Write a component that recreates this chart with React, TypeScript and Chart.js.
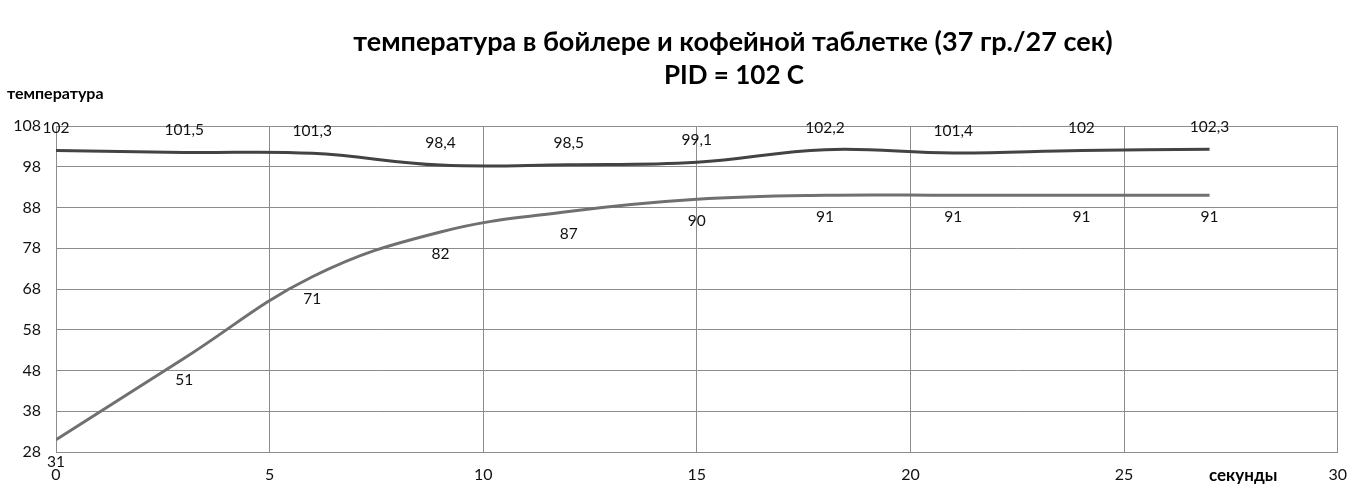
import React, { useEffect, useRef } from "react";
import { Chart, registerables } from "chart.js";

Chart.register(...registerables);

const seconds = [0, 3, 6, 9, 12, 15, 18, 21, 24, 27];
const boilerTemps = [102, 101.5, 101.3, 98.4, 98.5, 99.1, 102.2, 101.4, 102, 102.3];
const tabletTemps = [31, 51, 71, 82, 87, 90, 91, 91, 91, 91];
const titleLines = ["температура в бойлере и кофейной таблетке (37 гр./27 сек)", "PID = 102 C"];
const yAxisTitle = "температура";
const xAxisTitle = "секунды";

const FONT = "Lato, 'Noto Sans', sans-serif";

const labelsPlugin = {
  id: "valueLabels",
  afterDatasetsDraw(chart: any) {
    const ctx = chart.ctx;
    ctx.save();
    ctx.font = `15.5px ${FONT}`;
    ctx.fillStyle = "#111";
    ctx.textAlign = "center";
    ctx.textBaseline = "middle";
    chart.data.datasets.forEach((ds: any, i: number) => {
      const meta = chart.getDatasetMeta(i);
      meta.data.forEach((pt: any, j: number) => {
        const v = ds.data[j].y;
        const txt = String(v).replace(".", ",");
        const dy = i === 0 ? -22 : 22;
        ctx.fillText(txt, pt.x, pt.y + dy);
      });
    });
    ctx.restore();
  },
};

const textPlugin = {
  id: "extraText",
  afterDraw(chart: any) {
    const ctx = chart.ctx;
    ctx.save();
    ctx.fillStyle = "#000";
    ctx.textBaseline = "middle";
    ctx.textAlign = "center";
    ctx.font = `bold 27px ${FONT}`;
    ctx.fillText(titleLines[0], 733, 42);
    ctx.font = `bold 26px ${FONT}`;
    ctx.fillText(titleLines[1], 734, 76);
    ctx.textAlign = "left";
    ctx.font = `bold 16px ${FONT}`;
    ctx.fillText(yAxisTitle, 7, 94);
    ctx.font = `bold 17px ${FONT}`;
    ctx.fillText(xAxisTitle, 1209, 476);
    ctx.restore();
  },
};

export default function App() {
  const ref = useRef<HTMLCanvasElement>(null);
  useEffect(() => {
    const chart = new Chart(ref.current!, {
      type: "line",
      data: {
        datasets: [
          {
            label: "бойлер",
            data: seconds.map((x, i) => ({ x, y: boilerTemps[i] })),
            borderColor: "#434343",
            borderWidth: 3,
            pointRadius: 0,
            tension: 0.4,
            fill: false,
          },
          {
            label: "таблетка",
            data: seconds.map((x, i) => ({ x, y: tabletTemps[i] })),
            borderColor: "#707070",
            borderWidth: 3,
            pointRadius: 0,
            tension: 0.4,
            fill: false,
          },
        ],
      },
      options: {
        animation: false,
        responsive: false,
        maintainAspectRatio: false,
        layout: { padding: { top: 126, right: 21, left: 0, bottom: 0 } },
        plugins: {
          legend: { display: false },
          title: { display: false },
          tooltip: { enabled: false },
        },
        scales: {
          x: {
            type: "linear",
            min: 0,
            max: 30,
            ticks: { stepSize: 5, color: "#111", font: { family: FONT, size: 16 }, padding: 13 },
            grid: { color: "#8c8c8c", lineWidth: 1, drawTicks: false },
            border: { color: "#8c8c8c" },
            afterFit(scale: any) {
              scale.height = 43;
            },
          },
          y: {
            min: 28,
            max: 108,
            ticks: { stepSize: 10, color: "#111", font: { family: FONT, size: 16 }, padding: 15 },
            grid: { color: "#8c8c8c", lineWidth: 1, drawTicks: false },
            border: { color: "#8c8c8c" },
            afterFit(scale: any) {
              scale.width = 56;
            },
          },
        },
      },
      plugins: [labelsPlugin, textPlugin],
    });
    return () => chart.destroy();
  }, []);
  return (
    <div style={{ position: "fixed", left: 0, top: 0, width: 1360, height: 495, background: "#fff" }}>
      <canvas ref={ref} width={1360} height={495} style={{ width: 1360, height: 495 }} />
    </div>
  );
}
